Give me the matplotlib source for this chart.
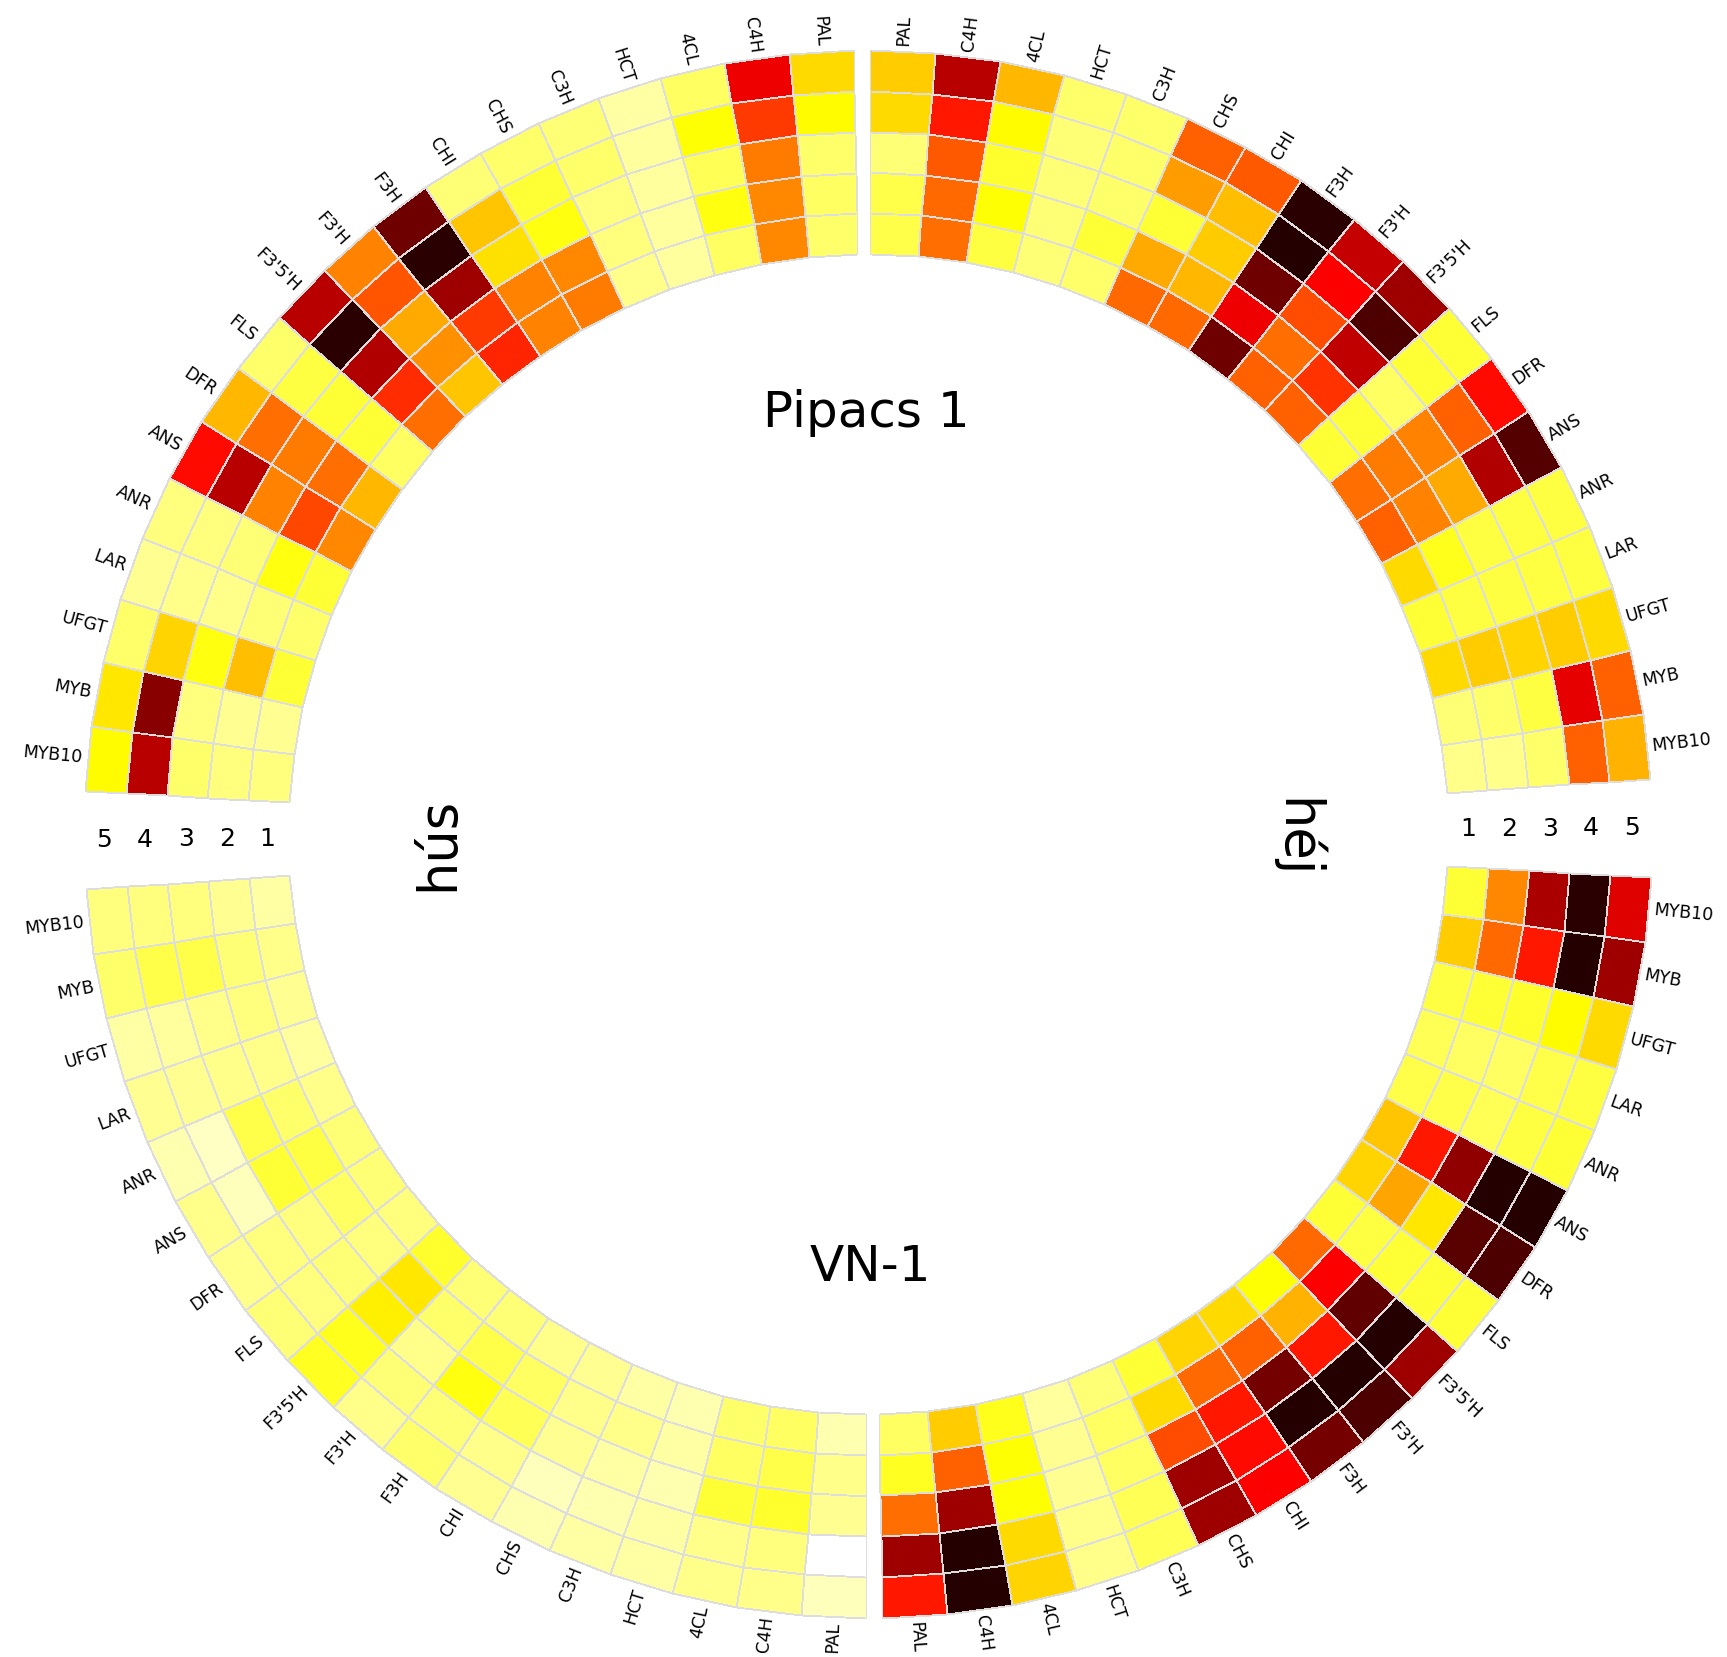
import numpy as np
import matplotlib
matplotlib.use('Agg')
import matplotlib.pyplot as plt

# genes of the flavonoid pathway, PAL next to the vertical axis, MYB10 next to the horizontal one
genes = ['PAL', 'C4H', '4CL', 'HCT', 'C3H', 'CHS', 'CHI', 'F3H', "F3'H",
         "F3'5'H", 'FLS', 'DFR', 'ANS', 'ANR', 'LAR', 'UFGT', 'MYB', 'MYB10']
stages = ['1', '2', '3', '4', '5']

# relative expression, one row per gene, columns = stage 1..5 (inner ring -> outer ring)
pipacs_hus = [
    [0.15, 0.16, 0.15, 0.26, 0.31],
    [0.43, 0.43, 0.45, 0.55, 0.66],
    [0.16, 0.24, 0.17, 0.25, 0.16],
    [0.10, 0.10, 0.10, 0.10, 0.09],
    [0.12, 0.13, 0.13, 0.15, 0.14],
    [0.45, 0.43, 0.24, 0.20, 0.15],
    [0.44, 0.44, 0.30, 0.34, 0.14],
    [0.58, 0.55, 0.78, 0.95, 0.85],
    [0.34, 0.42, 0.38, 0.51, 0.44],
    [0.47, 0.57, 0.75, 0.95, 0.74],
    [0.16, 0.20, 0.20, 0.19, 0.15],
    [0.36, 0.47, 0.45, 0.47, 0.36],
    [0.43, 0.53, 0.44, 0.74, 0.62],
    [0.20, 0.24, 0.14, 0.13, 0.13],
    [0.15, 0.14, 0.12, 0.12, 0.11],
    [0.20, 0.35, 0.24, 0.32, 0.15],
    [0.11, 0.11, 0.13, 0.81, 0.29],
    [0.13, 0.13, 0.15, 0.74, 0.26],
]
pipacs_hej = [
    [0.18, 0.18, 0.14, 0.31, 0.33],
    [0.47, 0.48, 0.50, 0.60, 0.74],
    [0.19, 0.25, 0.21, 0.26, 0.36],
    [0.14, 0.14, 0.14, 0.14, 0.15],
    [0.15, 0.20, 0.15, 0.15, 0.15],
    [0.48, 0.38, 0.20, 0.40, 0.49],
    [0.48, 0.36, 0.33, 0.35, 0.50],
    [0.85, 0.66, 0.85, 0.96, 0.95],
    [0.49, 0.47, 0.52, 0.64, 0.72],
    [0.49, 0.56, 0.73, 0.90, 0.78],
    [0.20, 0.20, 0.16, 0.20, 0.20],
    [0.47, 0.45, 0.44, 0.49, 0.62],
    [0.49, 0.44, 0.38, 0.75, 0.89],
    [0.31, 0.23, 0.19, 0.19, 0.19],
    [0.20, 0.19, 0.19, 0.19, 0.19],
    [0.31, 0.33, 0.32, 0.33, 0.31],
    [0.14, 0.15, 0.19, 0.67, 0.49],
    [0.12, 0.12, 0.15, 0.49, 0.37],
]
vn_hus = [
    [0.08, 0.12, 0.11, 0.00, 0.07],
    [0.16, 0.18, 0.21, 0.13, 0.12],
    [0.15, 0.16, 0.20, 0.12, 0.12],
    [0.08, 0.09, 0.08, 0.09, 0.09],
    [0.09, 0.12, 0.09, 0.08, 0.09],
    [0.11, 0.12, 0.11, 0.07, 0.08],
    [0.12, 0.16, 0.17, 0.12, 0.11],
    [0.14, 0.18, 0.24, 0.14, 0.15],
    [0.14, 0.15, 0.12, 0.14, 0.12],
    [0.21, 0.29, 0.28, 0.23, 0.22],
    [0.13, 0.13, 0.14, 0.13, 0.14],
    [0.14, 0.16, 0.13, 0.13, 0.12],
    [0.14, 0.19, 0.20, 0.07, 0.12],
    [0.12, 0.15, 0.18, 0.06, 0.08],
    [0.10, 0.12, 0.12, 0.11, 0.11],
    [0.11, 0.13, 0.12, 0.10, 0.09],
    [0.12, 0.14, 0.18, 0.18, 0.15],
    [0.09, 0.11, 0.13, 0.13, 0.13],
]
vn_hej = [
    [0.16, 0.22, 0.47, 0.78, 0.60],
    [0.33, 0.49, 0.78, 0.96, 0.96],
    [0.23, 0.25, 0.25, 0.31, 0.32],
    [0.10, 0.11, 0.11, 0.12, 0.12],
    [0.14, 0.16, 0.16, 0.17, 0.17],
    [0.20, 0.31, 0.52, 0.78, 0.78],
    [0.32, 0.48, 0.60, 0.62, 0.64],
    [0.31, 0.49, 0.84, 0.96, 0.84],
    [0.25, 0.37, 0.60, 0.96, 0.90],
    [0.48, 0.64, 0.87, 0.96, 0.78],
    [0.20, 0.19, 0.20, 0.20, 0.20],
    [0.32, 0.39, 0.29, 0.88, 0.90],
    [0.34, 0.60, 0.80, 0.96, 0.96],
    [0.18, 0.18, 0.17, 0.19, 0.20],
    [0.17, 0.16, 0.16, 0.18, 0.19],
    [0.19, 0.20, 0.21, 0.26, 0.31],
    [0.33, 0.48, 0.60, 0.96, 0.78],
    [0.20, 0.43, 0.76, 0.95, 0.68],
]

# geometry (pixels, the polar r axis is in pixels)
W, H = 1727, 1657
cx, cy = 868, 834          # centre of the circle, from the top left
R_AX = 860
r_in, r_out = 580, 784
tilt = 0.45                 # whole wheel is turned a little
step = 4.767                # degrees per gene
half_top = 0.6              # half gap at 12 and 6 o'clock

fig = plt.figure(figsize=(W / 100, H / 100), dpi=100)
ax = fig.add_axes([(cx - R_AX) / W, (H - cy - R_AX) / H, 2 * R_AX / W, 2 * R_AX / H],
                  projection='polar')
ax.set_rlim(0, R_AX)
ax.set_axis_off()

r_edges = np.linspace(r_in, r_out, len(stages) + 1)
r_mid = 0.5 * (r_edges[:-1] + r_edges[1:])

# (data, angle of the PAL edge, direction)
blocks = [
    (pipacs_hus, 90 + half_top + tilt, 1),
    (pipacs_hej, 90 - half_top + tilt, -1),
    (vn_hej, -90 + half_top + tilt, 1),
    (vn_hus, -90 - half_top + tilt, -1),
]

for data, start, sgn in blocks:
    vals = np.array(data).T            # rings x genes
    th_edges = start + sgn * step * np.arange(len(genes) + 1)
    ax.pcolormesh(np.deg2rad(th_edges), r_edges, vals, cmap='hot_r', vmin=0, vmax=1,
                  edgecolors='#dddddd', linewidth=0.6, shading='flat')
    for i, g in enumerate(genes):
        th = start + sgn * step * (i + 0.5)
        a = (th + 180) % 360 - 180
        if -90 < a < 90:
            rot, ha = a, 'left'
        else:
            rot, ha = a - 180 if a > 0 else a + 180, 'right'
        ax.text(np.deg2rad(th), r_out + 5, g, rotation=rot, rotation_mode='anchor',
                ha=ha, va='center', fontsize=12.5, family='DejaVu Sans')

# stage numbers in the side gaps
for s, r in zip(stages, r_mid):
    ax.text(np.deg2rad(180 + tilt), r, s, ha='center', va='center', fontsize=18)
    ax.text(np.deg2rad(tilt), r, s, ha='center', va='center', fontsize=18)

fig.text(866 / W, 1 - 427 / H, 'Pipacs 1', ha='center', va='baseline', fontsize=36)
fig.text(870 / W, 1 - 1281 / H, 'VN-1', ha='center', va='baseline', fontsize=36)
fig.text(438 / W, 1 - 844 / H, 'hús', rotation=90, ha='center', va='center', fontsize=38)
fig.text(1296 / W, 1 - 838 / H, 'héj', rotation=-90, ha='center', va='center', fontsize=38)

fig.savefig('out.png', dpi=100, facecolor='white')
